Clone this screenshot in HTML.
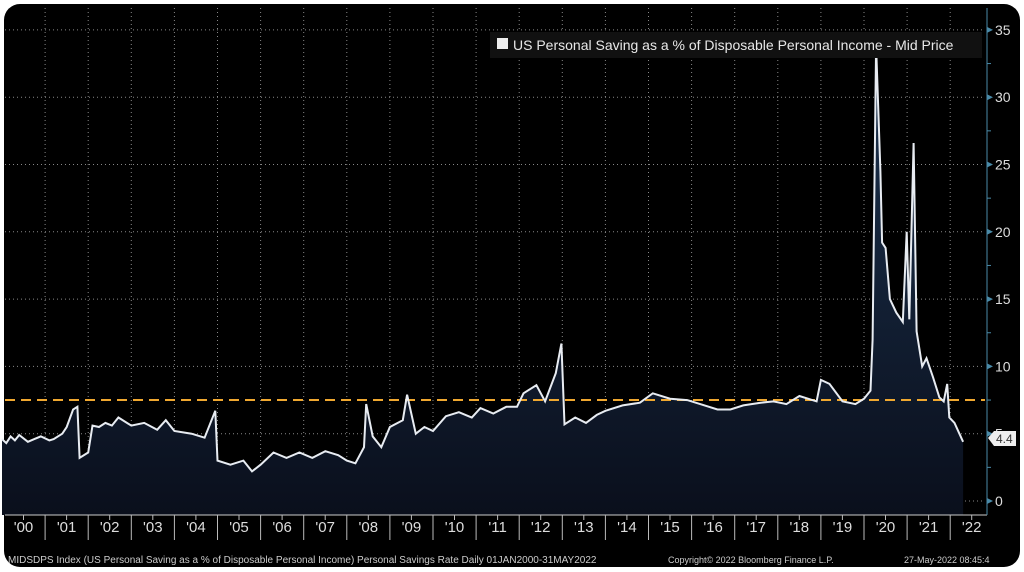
<!DOCTYPE html>
<html><head><meta charset="utf-8"><style>
html,body{margin:0;padding:0;background:#fff;}
body{width:1024px;height:572px;overflow:hidden;}
svg{display:block;font-family:"Liberation Sans",sans-serif;}
</style></head><body>
<svg id="s" width="1024" height="572" viewBox="0 0 1024 572">
<defs>
<linearGradient id="g" x1="0" y1="0" x2="0" y2="1">
<stop offset="0" stop-color="#1c3350"/><stop offset="1" stop-color="#0a0f1c"/>
</linearGradient>
</defs>
<rect x="4" y="4" width="1016" height="563" rx="16" fill="#000"/>
<g id="grid"></g>
<path id="area" fill="url(#g)"/>
<line x1="5" y1="400" x2="985" y2="400" stroke="#f0a830" stroke-width="2" stroke-dasharray="10,6"/>
<polyline id="line" fill="none" stroke="#e8ecf2" stroke-width="2"/>
<line x1="5" y1="515" x2="987" y2="515" stroke="#ccc" stroke-width="1"/>
<line x1="987" y1="8" x2="987" y2="515" stroke="#4a8aa8" stroke-width="1"/>
<g id="ax" fill="#ddd" font-size="14"></g>
<rect x="490" y="32" width="492" height="26" fill="#111"/>
<rect x="497" y="38" width="11" height="11" fill="#eee"/>
<text x="513" y="50" fill="#e8e8e8" font-size="14">US Personal Saving as a % of Disposable Personal Income - Mid Price</text>
<polygon points="988,438 994,431 1016,431 1016,446 994,446" fill="#eee"/>
<text x="996" y="443" fill="#333" font-size="12">4.4</text>
<text x="8" y="563" fill="#ccc" font-size="10">MIDSDPS Index (US Personal Saving as a % of Disposable Personal Income) Personal Savings Rate  Daily 01JAN2000-31MAY2022</text>
<text x="668" y="563" fill="#ccc" font-size="9">Copyright© 2022 Bloomberg Finance L.P.</text>
<text x="904" y="563" fill="#ccc" font-size="9">27-May-2022 08:45:4</text>
</svg>
<script>
const X=y=>2+43.1*(y-2000), Y=v=>501-13.46*v;
const ns="http://www.w3.org/2000/svg";
const grid=document.getElementById('grid'), ax=document.getElementById('ax');
function el(p,t,a){const e=document.createElementNS(ns,t);for(const k in a)e.setAttribute(k,a[k]);p.appendChild(e);return e;}
for(let v=0;v<=35;v+=5){const y=Y(v);
 el(grid,'line',{x1:5,y1:y,x2:985,y2:y,stroke:'#888','stroke-width':1,'stroke-dasharray':'1,3'});
 el(ax,'polygon',{points:`987,${y-3} 993,${y} 987,${y+3}`,fill:'#4a8aa8'});
 const t=el(ax,'text',{x:995,y:y+5});t.textContent=v;
 el(ax,'line',{x1:987,y1:Y(v+2.5),x2:991,y2:Y(v+2.5),stroke:'#4a8aa8'});
}
for(let yr=2000;yr<=2022;yr++){const x=X(yr);
 if(yr>2000)el(grid,'line',{x1:x,y1:8,x2:x,y2:515,stroke:'#888','stroke-width':1,'stroke-dasharray':'1,3'});
 if(yr>2000)el(ax,'line',{x1:x,y1:515,x2:x,y2:540,stroke:'#bbb'});
 el(ax,'line',{x1:x+21.5,y1:515,x2:x+21.5,y2:520,stroke:'#bbb'});
 const t=el(ax,'text',{x:x+21.5,y:532,'text-anchor':'middle','font-size':15});t.textContent="'"+String(yr%100).padStart(2,'0');
}
const P=[[2000,4.6],[2000.1,4.3],[2000.2,4.8],[2000.3,4.5],[2000.4,4.9],[2000.6,4.4],[2000.75,4.6],[2000.9,4.8],[2001.1,4.5],[2001.2,4.6],[2001.4,5.0],[2001.5,5.5],[2001.65,6.8],[2001.75,7.0],[2001.8,3.2],[2002,3.6],[2002.1,5.6],[2002.25,5.5],[2002.4,5.8],[2002.55,5.6],[2002.7,6.2],[2003,5.6],[2003.3,5.8],[2003.6,5.3],[2003.8,6.0],[2004,5.2],[2004.4,5.0],[2004.7,4.7],[2004.95,6.7],[2005,3.0],[2005.3,2.7],[2005.6,3.0],[2005.8,2.2],[2006,2.7],[2006.3,3.6],[2006.6,3.2],[2006.9,3.6],[2007.2,3.2],[2007.5,3.7],[2007.8,3.4],[2008,3.0],[2008.2,2.8],[2008.4,4.0],[2008.45,7.2],[2008.6,4.8],[2008.8,4.0],[2009,5.5],[2009.3,6.0],[2009.4,7.9],[2009.6,5.0],[2009.8,5.5],[2010,5.2],[2010.3,6.3],[2010.6,6.6],[2010.9,6.2],[2011.1,6.9],[2011.4,6.5],[2011.7,7.0],[2011.95,7.0],[2012.1,8.0],[2012.4,8.6],[2012.6,7.4],[2012.85,9.5],[2012.98,11.7],[2013.05,5.7],[2013.3,6.2],[2013.55,5.8],[2013.8,6.4],[2014,6.7],[2014.4,7.1],[2014.8,7.3],[2015.1,8.0],[2015.5,7.6],[2015.9,7.5],[2016.2,7.2],[2016.6,6.8],[2016.9,6.8],[2017.2,7.1],[2017.6,7.3],[2017.9,7.4],[2018.2,7.2],[2018.5,7.8],[2018.9,7.4],[2019.0,9.0],[2019.2,8.7],[2019.5,7.4],[2019.8,7.2],[2020.0,7.6],[2020.15,8.2],[2020.2,12],[2020.28,33.8],[2020.38,24.5],[2020.42,19.2],[2020.5,18.8],[2020.6,15],[2020.75,14],[2020.9,13.3],[2020.99,20],[2021.05,13.5],[2021.15,26.6],[2021.22,12.6],[2021.35,10.0],[2021.45,10.6],[2021.6,9.2],[2021.75,7.7],[2021.85,7.4],[2021.93,8.7],[2021.98,6.2],[2022.1,5.8],[2022.3,4.4]];
const pts=P.map(p=>X(p[0]).toFixed(1)+","+Y(p[1]).toFixed(1));
document.getElementById('line').setAttribute('points',pts.join(' '));
document.getElementById('area').setAttribute('d',`M${X(2000)},515 L`+pts.join(' L')+` L${X(2022.3)},515 Z`);
</script>
</body></html>
